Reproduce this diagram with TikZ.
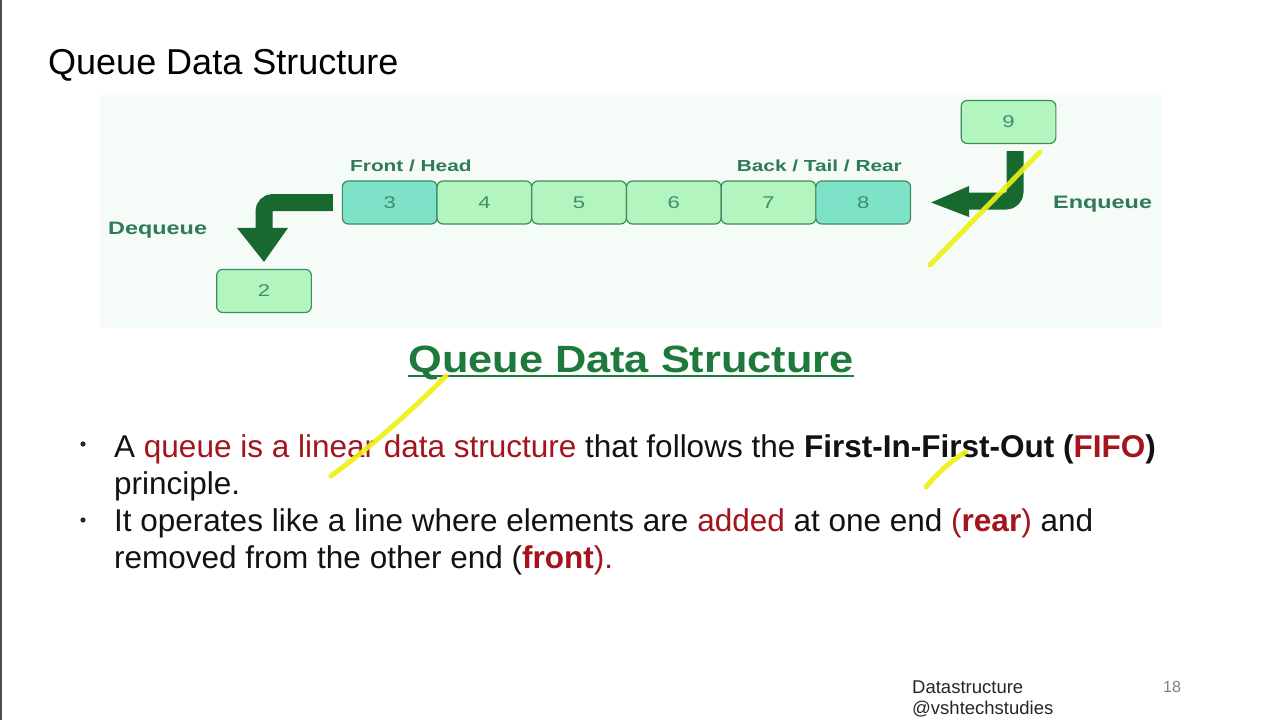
\documentclass[tikz,border=0pt]{standalone}
\usepackage{fontspec}
\setmainfont{Liberation Sans}
\usetikzlibrary{positioning}
\definecolor{cellgreen}{HTML}{B2F5BE}
\definecolor{cellteal}{HTML}{7DE2C8}
\definecolor{celledge}{HTML}{3F8A5E}
\definecolor{numink}{HTML}{3F8F6B}
\definecolor{labelink}{HTML}{2F7A58}
\definecolor{arrowgreen}{HTML}{17692F}
\definecolor{headgreen}{HTML}{1E7A3C}
\definecolor{panel}{HTML}{F5FBF6}
\definecolor{redink}{HTML}{A3141C}
\definecolor{marker}{HTML}{EEF012}
\newcommand{\wide}[1]{\scalebox{1.3}[1]{#1}}
\newcommand{\redtxt}[1]{\textcolor{redink}{#1}}

\begin{document}
\begin{tikzpicture}[x=1pt,y=-1pt,
 cell/.style={draw=celledge,line width=1.2pt,rounded corners=6pt,fill=cellgreen,
 minimum width=94.7pt,minimum height=43pt,inner sep=0pt,
 font=\fontsize{17}{17}\selectfont,text=numink},
 tag/.style={font=\bfseries\fontsize{16}{16}\selectfont,text=labelink,inner sep=0pt},
 bigarrow/.style={draw=arrowgreen,line width=17pt,rounded corners=9pt},
 body/.style={anchor=base west,inner sep=0pt,font=\fontsize{31.5}{31.5}\selectfont,text=black!93},
 foot/.style={anchor=base west,inner sep=0pt,font=\fontsize{18.5}{18.5}\selectfont,text=black!85},
 stroke/.style={draw=marker,line width=5pt,line cap=round,opacity=.9}]
\useasboundingbox (0,0) rectangle (1280,720);
\fill[white] (0,0) rectangle (1280,720);
\draw[black!70,line width=1.5pt] (1,0) -- (1,720);
\node[anchor=base west,inner sep=0pt,font=\fontsize{36}{36}\selectfont] (title) at (48,74) {Queue Data Structure};
% diagram panel
\fill[panel] (100,95) rectangle (1162,328);
\foreach \v/\c [count=\k from 0] in {3/cellteal,4/cellgreen,5/cellgreen,6/cellgreen,7/cellgreen,8/cellteal}
 \node[cell,fill=\c] (q\v) at ({389.7+94.7*\k},202.5) {\wide{\v}};
\node[cell] (out) at (264,291) {\wide{2}};
\node[cell] (in) at (1008.5,122) {\wide{9}};
\node[tag,anchor=base west] (fronttag) at (350,171) {\wide{Front / Head}};
\node[tag,anchor=base east] (reartag) at (902,171) {\wide{Back / Tail / Rear}};
\node[tag,anchor=base west,font=\bfseries\fontsize{18}{18}\selectfont] (deq) at (108,234.5) {\wide{Dequeue}};
\node[tag,anchor=base west,font=\bfseries\fontsize{18}{18}\selectfont] (enq) at (1053,208.5) {\wide{Enqueue}};
% dequeue arrow
\draw[bigarrow] ([xshift=-9pt]q3.west) -| ([yshift=39pt]out.north);
\fill[arrowgreen] ([shift={(-27pt,41pt)}]out.north) -- ([shift={(24pt,41pt)}]out.north) -- ([yshift=7pt]out.north) -- cycle;
% enqueue arrow
\coordinate (enqbase) at (969,201);
\draw[bigarrow] ([shift={(6.5pt,-7pt)}]in.south) |- (enqbase);
\fill[arrowgreen] ([yshift=15pt]enqbase) -- ([yshift=-16pt]enqbase) -- ([xshift=20pt]q8.east) -- cycle;
% caption
\node[anchor=base,inner sep=0pt,font=\bfseries\fontsize{38}{38}\selectfont,text=headgreen] (caption) at (631,372) {\scalebox{1.14}[1]{Queue Data Structure}};
\draw[headgreen,line width=2pt] ([yshift=-4pt]caption.base west) -- ([yshift=-4pt]caption.base east);
% bullets
\fill[black!85] (83,444) circle (2.6);
\fill[black!85] (83,520) circle (2.6);
\node[body] (l1) at (114,457) {A \redtxt{queue is a linear data structure} that follows the \textbf{First-In-First-Out (\redtxt{FIFO})}};
\node[body] (l2) at (114,494) {principle.};
\node[body] (l3) at (114,531) {It operates like a line where elements are \redtxt{added} at one end \redtxt{(\textbf{rear})} and};
\node[body] (l4) at (114,568) {removed from the other end (\textbf{\redtxt{front}}\redtxt{).}};
% footer
\node[foot] (f1) at (912,693) {Datastructure};
\node[foot] (f2) at (912,714) {@vshtechstudies};
\node[foot,text=black!50,font=\fontsize{16}{16}\selectfont] (page) at (1163,692) {18};
% pen marks
\draw[stroke] (930,265) -- (1040,152);
\draw[stroke] (331,476) .. controls (380,440) and (420,402) .. (446,376);
\draw[stroke] (926,487) .. controls (940,470) and (955,458) .. (966,452);
\end{tikzpicture}
\end{document}
